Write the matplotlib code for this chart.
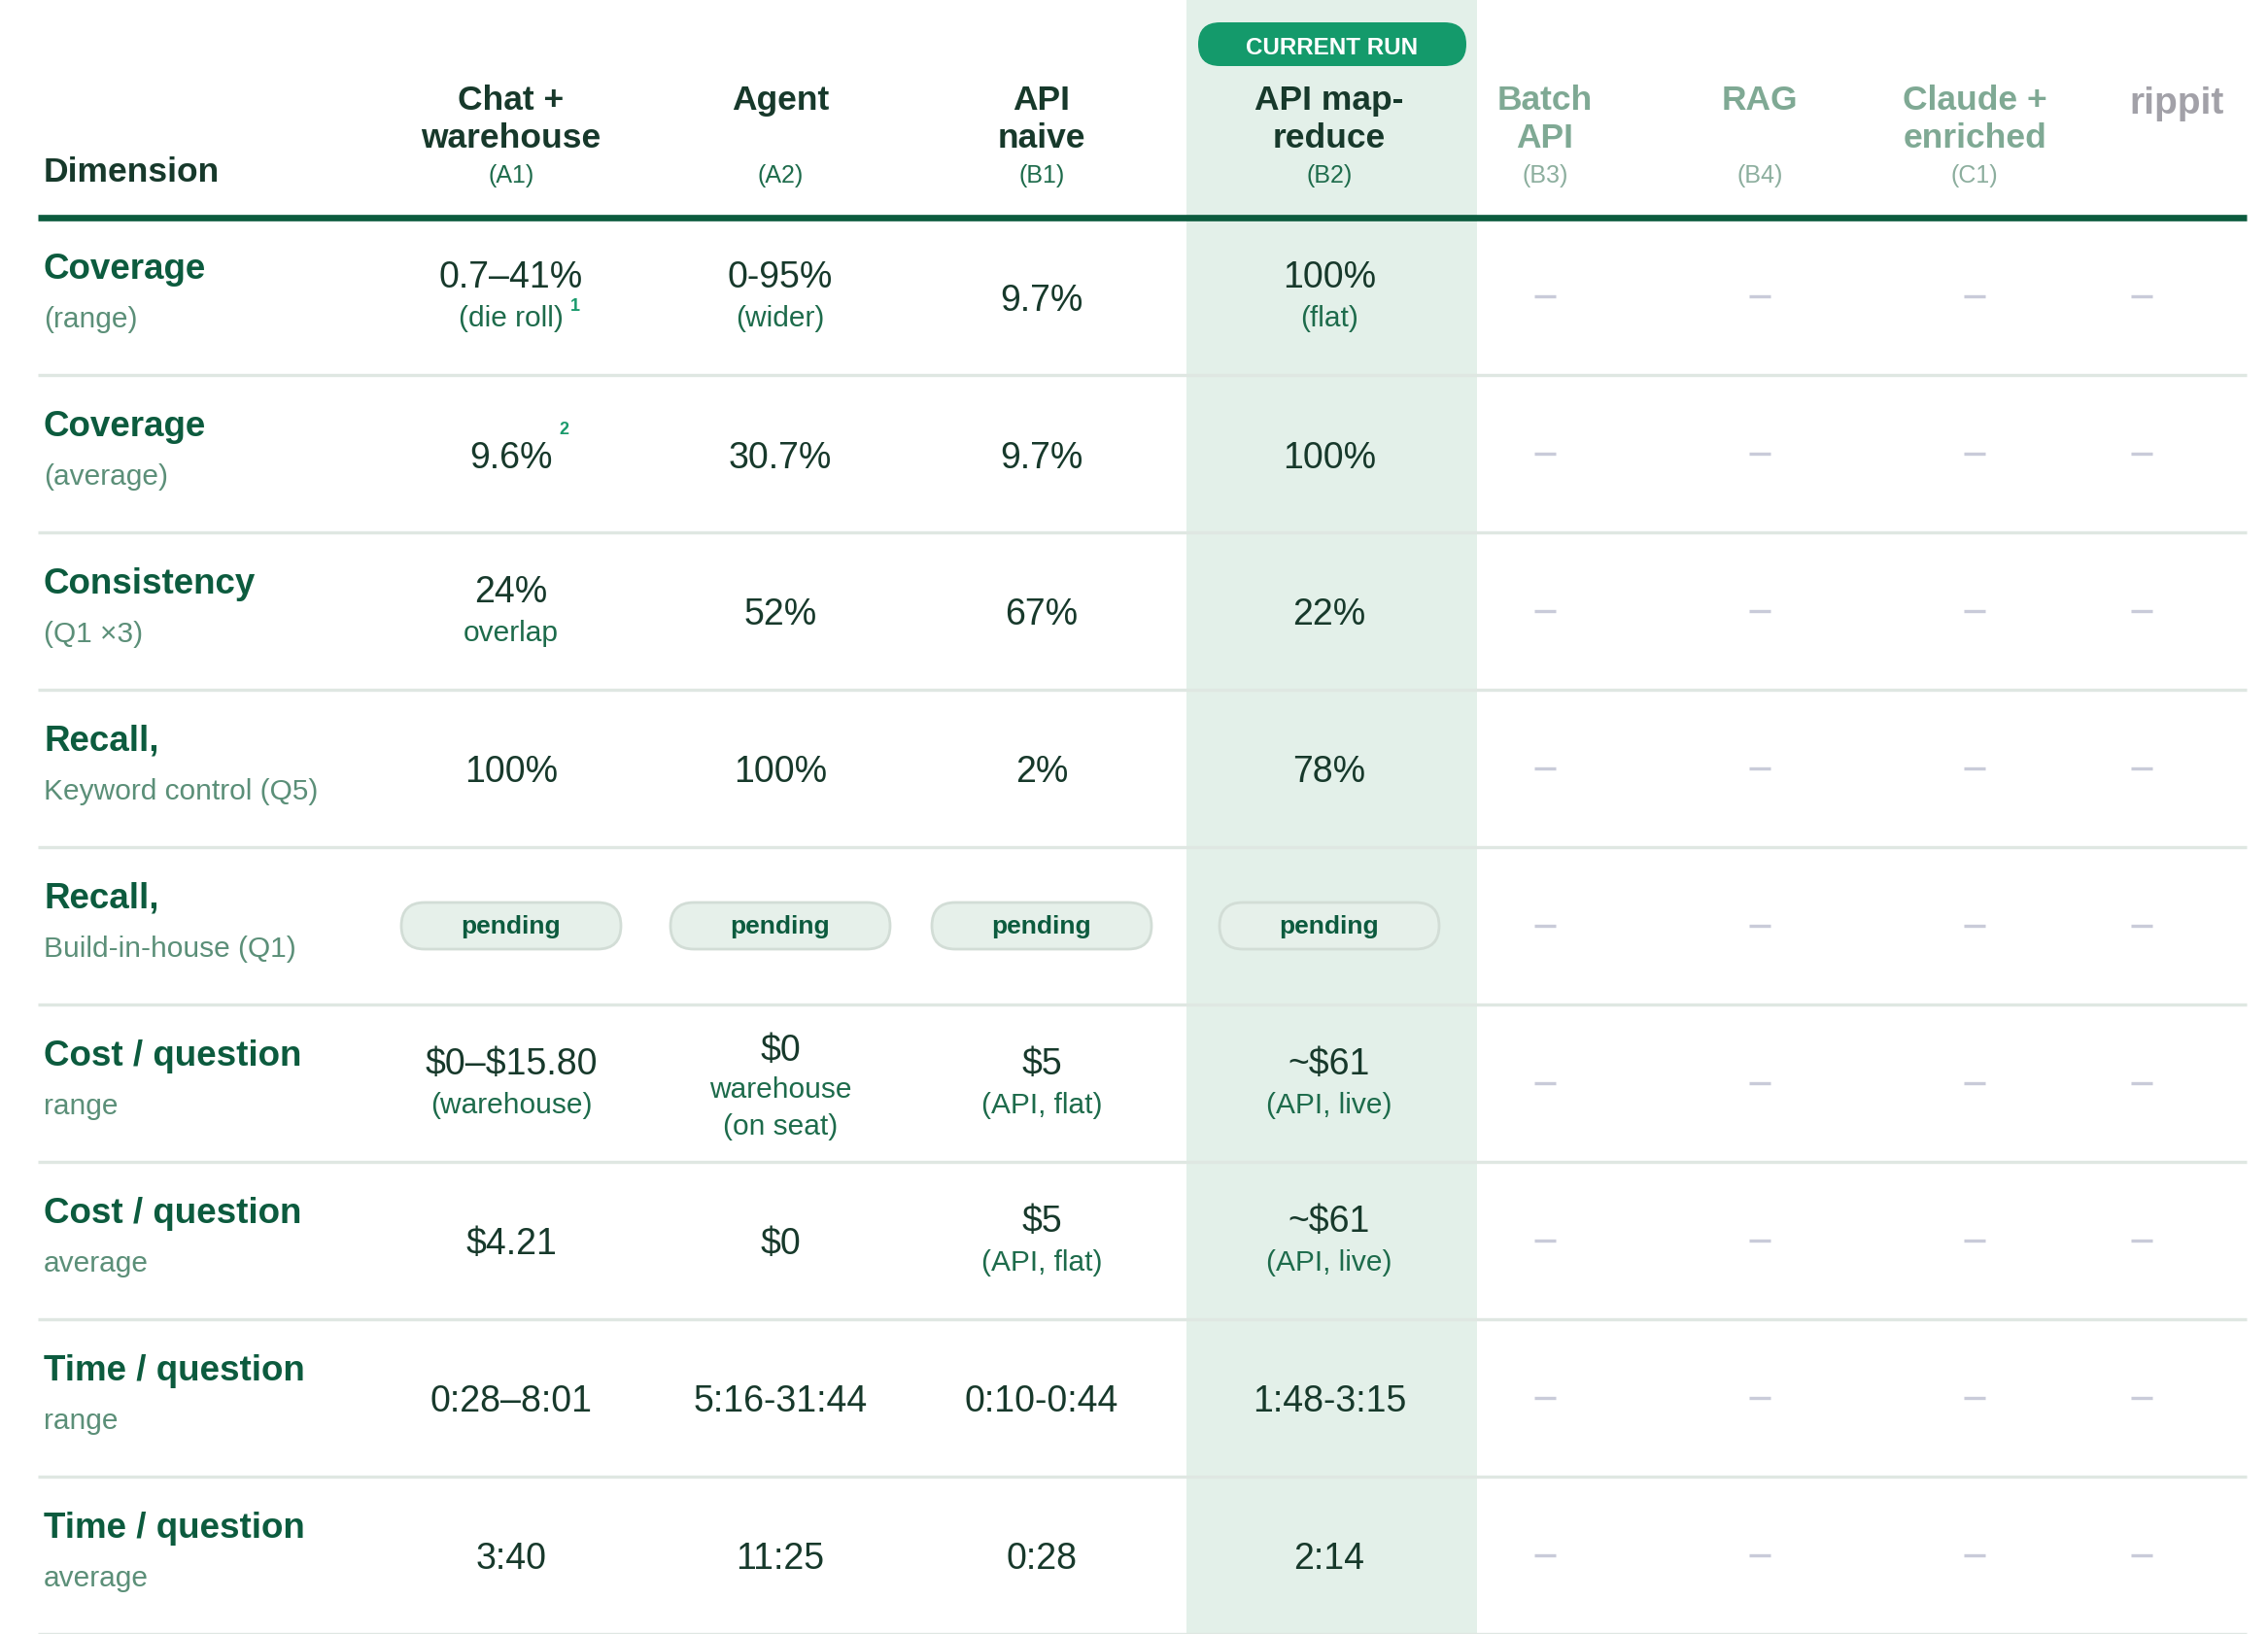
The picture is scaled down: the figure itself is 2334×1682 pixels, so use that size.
import matplotlib
matplotlib.use("Agg")
from matplotlib import pyplot as plt
from matplotlib.patches import FancyBboxPatch, Rectangle

plt.rcParams['font.family'] = ['Liberation Sans', 'DejaVu Sans']

# ---- data -------------------------------------------------------------
COLUMNS = ["Chat +\nwarehouse", "Agent", "API\nnaive", "API map-\nreduce",
           "Batch\nAPI", "RAG", "Claude +\nenriched", "rippit"]
CODES = ["(A1)", "(A2)", "(B1)", "(B2)", "(B3)", "(B4)", "(C1)", ""]
CURRENT = 3          # highlighted column
MUTED = [4, 5, 6]    # greyed-out columns
LOGO = 7

ROW_TITLES = ["Coverage", "Coverage", "Consistency", "Recall,", "Recall,",
              "Cost / question", "Cost / question", "Time / question", "Time / question"]
ROW_SUBTITLES = ["(range)", "(average)", "(Q1 \u00d73)", "Keyword control (Q5)",
                 "Build-in-house (Q1)", "range", "average", "range", "average"]

A1 = ["0.7\u201341%\n(die roll)", "9.6%", "24%\noverlap", "100%", "pending",
      "$0\u2013$15.80\n(warehouse)", "$4.21", "0:28\u20138:01", "3:40"]
A2 = ["0-95%\n(wider)", "30.7%", "52%", "100%", "pending",
      "$0\nwarehouse\n(on seat)", "$0", "5:16-31:44", "11:25"]
B1 = ["9.7%", "9.7%", "67%", "2%", "pending",
      "$5\n(API, flat)", "$5\n(API, flat)", "0:10-0:44", "0:28"]
B2 = ["100%\n(flat)", "100%", "22%", "78%", "pending",
      "~$61\n(API, live)", "~$61\n(API, live)", "1:48-3:15", "2:14"]
B3 = [None] * 9
B4 = [None] * 9
C1 = [None] * 9
RIPPIT = [None] * 9
CELLS = [A1, A2, B1, B2, B3, B4, C1, RIPPIT]

# footnote markers: (row, column, line index, marker)
NOTES = [(0, 0, 1, "1"), (1, 0, 0, "2")]

# ---- style ------------------------------------------------------------
W, H = 2334, 1683
COL_X = [526, 803, 1072, 1368, 1590, 1811, 2032, 2204]
HEAD_X = COL_X[:-1] + [2240]
LEFT, RIGHT = 39, 2312
HEAD_LINE = 225
ROW_H = 162

DARK = '#17392b'
GREEN = '#0c5b3e'
SUB_GREEN = '#1d6b4b'
LABEL_SUB = '#5b8f78'
MUTED_HEAD = '#7fa994'
MUTED_CODE = '#8cae9e'
LOGO_GREY = '#a2a1a8'
HIGHLIGHT = '#e3f0e9'
PILL = '#149a6b'
NOTE = '#1a9a6c'
RULE = '#dfe7e2'
DASH = '#c9cbd9'

fig = plt.figure(figsize=(W / 100, H / 100), dpi=100)
ax = fig.add_axes([0, 0, 1, 1])
ax.set_xlim(0, W)
ax.set_ylim(H, 0)
ax.axis('off')

# highlighted column
ax.add_patch(Rectangle((1221, 0), 299, H, facecolor=HIGHLIGHT, edgecolor='none', zorder=0))
ax.add_patch(FancyBboxPatch((1233, 24), 276, 45, boxstyle="round,pad=0,rounding_size=22.5",
                            facecolor=PILL, edgecolor='none', zorder=2))
ax.text(1371, 49, "CURRENT RUN", color='white', fontsize=17.4, fontweight='bold',
        ha='center', va='center', zorder=3)

# header
ax.text(45, 187, "Dimension", color=DARK, fontsize=25.5, fontweight='bold', va='baseline')
for j, (name, code) in enumerate(zip(COLUMNS, CODES)):
    if j in MUTED:
        c_head, c_code = MUTED_HEAD, MUTED_CODE
    elif j == LOGO:
        c_head, c_code = LOGO_GREY, LOGO_GREY
    else:
        c_head, c_code = DARK, SUB_GREEN
    if j == LOGO:
        ax.text(HEAD_X[j], 117, name, color=c_head, fontsize=28, fontweight='bold',
                ha='center', va='baseline')
        continue
    for k, line in enumerate(name.split("\n")):
        ax.text(HEAD_X[j], 113 + 39 * k, line, color=c_head, fontsize=25.5,
                fontweight='bold', ha='center', va='baseline')
    ax.text(HEAD_X[j], 188, code, color=c_code, fontsize=18, ha='center', va='baseline')

ax.plot([LEFT, RIGHT], [HEAD_LINE, HEAD_LINE], color=GREEN, lw=4.8,
        solid_capstyle='butt', zorder=4)

# body
texts = {}
for i, (title, sub) in enumerate(zip(ROW_TITLES, ROW_SUBTITLES)):
    top = HEAD_LINE + ROW_H * i
    mid = top + ROW_H / 2
    ax.text(45, top + 62, title, color=GREEN, fontsize=26.5, fontweight='bold', va='baseline')
    ax.text(45, top + 112, sub, color=LABEL_SUB, fontsize=21.5, va='baseline')
    bottom = top + ROW_H
    ax.plot([LEFT, RIGHT], [bottom, bottom], color=RULE, lw=2.4,
            solid_capstyle='butt', zorder=4)

    for j, col in enumerate(CELLS):
        x = COL_X[j]
        val = col[i]
        if val is None:
            ax.plot([x - 11, x + 11], [mid, mid], color=DASH, lw=2.4,
                    solid_capstyle='butt', zorder=3)
            continue
        if val == "pending":
            ax.add_patch(FancyBboxPatch((x - 113, mid - 24), 226, 48,
                                        boxstyle="round,pad=0,rounding_size=24",
                                        facecolor='#e6f0ea', edgecolor='#d2ddd6',
                                        lw=2, zorder=3))
            ax.text(x, mid, "pending", color=GREEN, fontsize=19, fontweight='bold',
                    ha='center', va='center', zorder=4)
            continue
        lines = val.split("\n")
        if len(lines) == 1:
            ys = [mid + 13.5]
        elif len(lines) == 2:
            ys = [mid - 9.5, mid + 30]
        else:
            ys = [mid - 24, mid + 14, mid + 52]
        for k, (line, y) in enumerate(zip(lines, ys)):
            if k == 0:
                t = ax.text(x, y, line, color=DARK, fontsize=27, ha='center',
                            va='baseline', parse_math=False, zorder=4)
            else:
                t = ax.text(x, y, line, color=SUB_GREEN, fontsize=21.5, ha='center',
                            va='baseline', parse_math=False, zorder=4)
            texts[(i, j, k)] = (t, y)

# footnote markers after the text they belong to
fig.canvas.draw()
inv = ax.transData.inverted()
for i, j, k, mark in NOTES:
    t, y = texts[(i, j, k)]
    bb = t.get_window_extent()
    x_right = inv.transform((bb.x1, bb.y0))[0]
    dy = 39 if k == 0 else 20
    ax.text(x_right + 7, y - dy, mark, color=NOTE, fontsize=13, fontweight='bold',
            ha='left', va='center', zorder=4)

fig.savefig("out.png", dpi=100)
